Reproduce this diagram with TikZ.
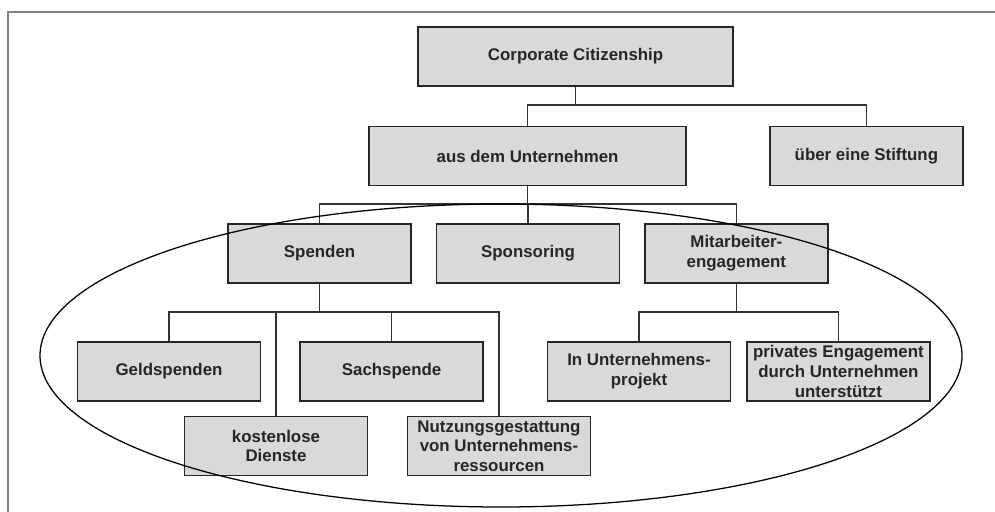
\documentclass[tikz,border=0pt]{standalone}
\usepackage{fontspec}
\setmainfont{Liberation Sans}

\begin{document}
\begin{tikzpicture}
	\tikzset{box/.style={
			draw=black!85,
			fill=black!15,
			line width=0.9pt,
			minimum width=4.575cm,
			minimum height=1.475cm,
			inner sep=0.5pt,
			align=center,
			text=black!85,
			font=\bfseries\fontsize{12}{14}\selectfont
	}}
	\tikzset{link/.style={line width=0.9pt, draw=black!80}}
	
	\useasboundingbox (0,0) rectangle (24.875,12.775);
	\draw[black!50, line width=1.4pt] (0.2,-1) -- (0.2,12.475) -- (26,12.475);
	
	%% TOP LEVELS
	\node[box, minimum width=7.875cm] (Citizenship) at (14.39,11.36) {Corporate Citizenship};
	\node[box, minimum width=7.925cm] (Unternehmen) at (13.19,8.875) {aus dem Unternehmen};
	\node[box, minimum width=4.825cm] (Stiftung) at (21.66,8.875) {über eine Stiftung};
	
	%% FORMS
	\node[box] (Spenden) at (7.99,6.44) {Spenden};
	\node[box] (Sponsoring) at (13.2,6.44) {Sponsoring};
	\node[box] (Mitarbeiter) at (18.41,6.44) {Mitarbeiter-\\engagement};
	
	%% SPENDEN
	\node[box] (Geld) at (4.225,3.49) {Geldspenden};
	\node[box] (Sach) at (9.79,3.49) {Sachspende};
	\node[box] (Dienste) at (6.9,1.625) {kostenlose\\Dienste};
	\node[box] (Nutzung) at (12.475,1.625) {Nutzungsgestattung\\von Unternehmens-\\ressourcen};
	
	%% MITARBEITER
	\node[box] (Projekt) at (15.975,3.49) {In Unternehmens-\\projekt};
	\node[box] (Privat) at (20.96,3.49) {privates Engagement\\durch Unternehmen\\unterstützt};
	
	\coordinate (J1) at (0,10.15);
	\coordinate (J2) at (0,7.675);
	\coordinate (J3) at (0,4.975);
	
	\foreach \c in {Unternehmen,Stiftung}
		\draw[link] (Citizenship.south) |- (\c.north |- J1) -- (\c.north);
	\foreach \c in {Spenden,Sponsoring,Mitarbeiter}
		\draw[link] (Unternehmen.south) |- (\c.north |- J2) -- (\c.north);
	\foreach \c in {Geld,Sach,Dienste,Nutzung}
		\draw[link] (Spenden.south) |- (\c.north |- J3) -- (\c.north);
	\foreach \c in {Projekt,Privat}
		\draw[link] (Mitarbeiter.south) |- (\c.north |- J3) -- (\c.north);
	
	%% CIRCLE ROUND THE FORMS
	\draw[black, line width=0.9pt] (12.525,3.8875) ellipse [x radius=11.525, y radius=3.7875];
	
\end{tikzpicture}
\end{document}
